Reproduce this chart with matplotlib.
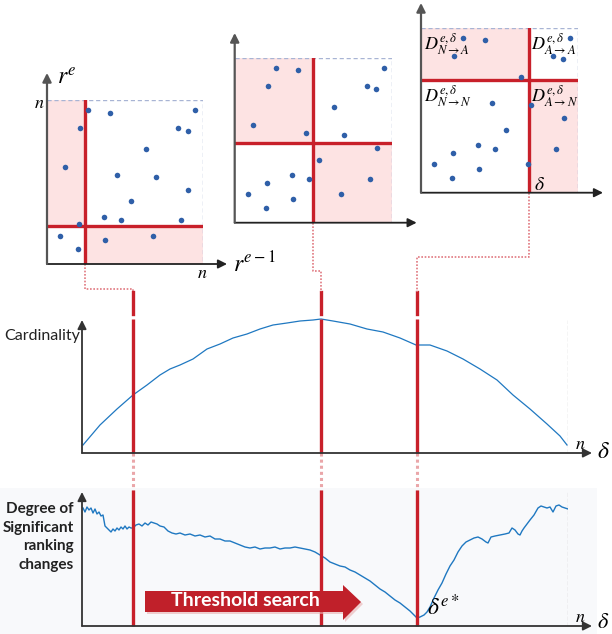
import matplotlib.pyplot as plt
from matplotlib.patches import Rectangle, Polygon
from matplotlib.transforms import blended_transform_factory

plt.rcParams['mathtext.fontset'] = 'stix'
plt.rcParams['font.family'] = ['Lato', 'DejaVu Sans']

# scatter of ranks (same points in every panel), normalised 0..n=1
pt_x = [0.265, 0.404, 0.949, 0.212, 0.842, 0.902, 0.635, 0.117, 0.451, 0.699,
        0.906, 0.538, 0.365, 0.472, 0.859, 0.203, 0.085, 0.678, 0.370, 0.197]
pt_y = [0.939, 0.923, 0.939, 0.827, 0.831, 0.811, 0.699, 0.593, 0.543, 0.532,
        0.451, 0.382, 0.288, 0.266, 0.266, 0.242, 0.171, 0.171, 0.144, 0.089]
thr_x = [0.244, 0.497, 0.689]
thr_y = [0.232, 0.481, 0.683]

# cardinality curve (delta from 0 to n=486)
card_delta = [1, 18, 35, 51, 65, 78, 88, 98, 111, 125,
              138, 151, 165, 178, 191, 205, 218, 231, 239, 251,
              268, 285, 301, 318, 334, 348, 365, 381, 398, 415,
              431, 448, 465, 478, 485]
card_val = [8, 28, 44, 58, 68, 78, 84, 88, 94, 104,
            109, 115, 119, 124, 128, 130, 132, 133, 134, 132,
            129, 124, 121, 115, 108, 108, 102, 94, 84, 73,
            58, 44, 29, 17, 8]

# degree of significant ranking changes
deg_delta = [1, 3, 5, 7, 9, 11, 13, 15, 17, 19,
             21, 23, 25, 27, 29, 31, 33, 35, 37, 39,
             41, 43, 45, 47, 49, 51, 54, 57, 60, 63,
             66, 69, 72, 75, 78, 82, 86, 90, 94, 98,
             103, 108, 113, 118, 123, 128, 133, 138, 143, 148,
             153, 158, 163, 168, 173, 178, 183, 188, 193, 198,
             203, 208, 213, 218, 223, 228, 233, 238, 243, 248,
             253, 258, 263, 268, 273, 278, 283, 288, 293, 298,
             303, 308, 313, 318, 323, 328, 332, 335, 338, 342,
             345, 348, 352, 356, 360, 364, 368, 372, 376, 380,
             384, 388, 392, 396, 400, 404, 406, 409, 413, 418,
             423, 427, 430, 433, 436, 438, 440, 442, 445, 448,
             452, 456, 459, 462, 465, 468, 471, 474, 477, 480,
             483, 486]
deg_val = [118, 114, 119, 116, 118, 113, 117, 112, 114, 110,
           111, 100, 98, 96, 94, 97, 95, 98, 96, 99,
           97, 100, 97, 99, 98, 98, 101, 102, 100, 103,
           101, 104, 103, 102, 100, 99, 95, 93, 92, 93,
           91, 92, 90, 91, 89, 90, 87, 87, 85, 85,
           83, 81, 79, 78, 79, 77, 78, 78, 79, 77,
           78, 78, 79, 78, 77, 76, 74, 71, 68, 64,
           62, 60, 59, 56, 54, 51, 48, 45, 41, 37,
           34, 30, 26, 23, 19, 15, 11, 8, 9, 11,
           14, 19, 28, 36, 43, 52, 60, 66, 74, 80,
           84, 86, 88, 89, 87, 84, 83, 89, 90, 91,
           92, 93, 98, 96, 92, 91, 95, 98, 102, 106,
           111, 118, 120, 119, 118, 119, 114, 120, 121, 119,
           118, 117]

search_delta = [51, 239, 335]
N = 486

RED = '#c8202a'
PINK = '#fde3e3'
BLUE = '#2f5fa8'
LINE = '#1f78c1'
AX = '#333333'

W, H = 612, 634
fig = plt.figure(figsize=(W / 100, H / 100), dpi=100)


def px_axes(x0, y0, x1, y1):
    a = fig.add_axes([x0 / W, 1 - y1 / H, (x1 - x0) / W, (y1 - y0) / H])
    a.set_facecolor('none')
    a.axis('off')
    return a


def arrow(a, x0, y0, x1, y1, color=AX, lw=1.3):
    a.annotate('', xy=(x1, y1), xytext=(x0, y0), annotation_clip=False,
               arrowprops=dict(arrowstyle='-|>', color=color, lw=lw,
                               mutation_scale=13, shrinkA=0, shrinkB=0))


def overlay(z):
    a = fig.add_axes([0, 0, 1, 1], zorder=z)
    a.set_xlim(0, W)
    a.set_ylim(H, 0)
    a.set_facecolor('none')
    a.axis('off')
    return a


ov = overlay(0)
ov.add_patch(Rectangle((0, 488), 597, 146, fc='#f8f9fb', ec='none'))

# --- scatter panels
boxes = [(47, 100, 203, 264), (234.7, 57.7, 391.7, 222.7), (421, 27.7, 578.3, 192.7)]
tips = [(1.154, 1.165), (1.159, 1.15), (1.157, 1.15)]
panels = []
for (box, tx, ty, tip) in zip(boxes, thr_x, thr_y, tips):
    ax = px_axes(*box)
    ax.set_xlim(0, 1)
    ax.set_ylim(0, 1)
    ax.add_patch(Rectangle((0, ty), tx, 1 - ty, fc=PINK, ec='none'))
    ax.add_patch(Rectangle((tx, 0), 1 - tx, ty, fc=PINK, ec='none'))
    ax.plot([0, 1, 1], [1, 1, 0], ls=(0, (3, 2)), color='#a8b4d4', lw=1)
    ax.plot([tx, tx], [0, 1], color=RED, lw=2.4)
    ax.plot([0, 1], [ty, ty], color=RED, lw=2.4)
    ax.scatter(pt_x, pt_y, s=16, color=BLUE, zorder=5, linewidths=0)
    arrow(ax, 0, 0, tip[0], 0, color='#222222')
    arrow(ax, 0, 0, 0, tip[1], color='#555555', lw=1.6)
    panels.append(ax)

# --- cardinality
axm = px_axes(82, 320, 568, 453)
axm.set_xlim(0, N)
axm.set_ylim(0, 133)
axm.plot(card_delta, card_val, color=LINE, lw=0.9, clip_on=False)
axm.plot([N, N], [0, 133], ls='--', color='#555555', lw=0.8)
axm.vlines(search_delta, 0, 134.5, color=RED, lw=2.4, clip_on=False)
arrow(axm, 0, 0, 510, 0)
arrow(axm, 0, 0, 0, 133)

# --- degree of significant ranking changes
axb = px_axes(82, 492, 568, 626)
axb.set_xlim(0, N)
axb.set_ylim(0, 134)
axb.plot(deg_delta, deg_val, color=LINE, lw=1.0)
axb.plot([N, N], [0, 134], ls='--', color='#555555', lw=0.8)
axb.vlines(search_delta, 0, 136, color=RED, lw=2.4, clip_on=False)
arrow(axb, 0, 0, 510, 0)
arrow(axb, 0, 0, 0, 134)

# --- links from the panels to the curves
bt = blended_transform_factory(axm.transData, ov.transData)
for d in search_delta:
    ov.plot([d, d], [292, 314], color=RED, lw=2.4, transform=bt)
    ov.plot([d, d], [453, 490], color='#eaa6a9', lw=2.2, ls=(0, (1, 1)), transform=bt)

levels = [289, 271, 257]
inv = ov.transData.inverted()
for ax, tx, lev, d in zip(panels, thr_x, levels, search_delta):
    x0, y0 = inv.transform(ax.transData.transform((tx, 0)))
    x1, _ = inv.transform(axm.transData.transform((d, 0)))
    ov.plot([x0, x0, x1, x1], [y0, lev, lev, 292], color='#e07880', lw=1.2,
            ls=(0, (1, 1)))

# --- texts on top of everything
top = overlay(10)
top.text(57, 78, '$r^{e}$', fontsize=17, ha='left', va='center')
top.text(39, 103, '$n$', fontsize=13, ha='center', va='center')
top.text(202, 273, '$n$', fontsize=13, ha='center', va='center')
top.text(233, 264, '$r^{e-1}$', fontsize=17, ha='left', va='center')
top.text(424, 45, r'$D^{e,\delta}_{N\rightarrow A}$', fontsize=13, ha='left', va='center')
top.text(531, 45, r'$D^{e,\delta}_{A\rightarrow A}$', fontsize=13, ha='left', va='center')
top.text(424, 97, r'$D^{e,\delta}_{N\rightarrow N}$', fontsize=13, ha='left', va='center',
         bbox=dict(fc='white', ec='none', pad=0.3))
top.text(531, 97, r'$D^{e,\delta}_{A\rightarrow N}$', fontsize=13, ha='left', va='center')
top.text(534, 185, r'$\delta$', fontsize=14, ha='left', va='center')

top.text(4, 336, 'Cardinality', fontsize=11.5, ha='left', va='center', color='#222222')
top.text(575, 444, '$n$', fontsize=13, ha='left', va='center')
top.text(597, 451, r'$\delta$', fontsize=17, ha='left', va='center')

top.text(74, 537, 'Degree of\nSignificant\nranking\nchanges', fontsize=11, fontweight='bold',
         ha='right', va='center', linespacing=1.45, color='#222222')
top.text(427, 606, r'$\delta^{e*}$', fontsize=17, ha='left', va='center')
top.text(575, 617, '$n$', fontsize=13, ha='left', va='center')
top.text(597, 622, r'$\delta$', fontsize=16, ha='left', va='center')

# threshold search arrow
shape = [(145, 591), (343, 591), (343, 585), (361, 602), (343, 620), (343, 612), (145, 612)]
top.add_patch(Polygon([(x + 2, y + 2) for x, y in shape], fc='#e8b0b0', ec='none', alpha=0.6))
top.add_patch(Polygon(shape, fc='#c0202a', ec='none'))
top.text(245, 601, 'Threshold search', fontsize=14, fontweight='bold', color='white',
         ha='center', va='center')

fig.savefig('out.png', dpi=100)
